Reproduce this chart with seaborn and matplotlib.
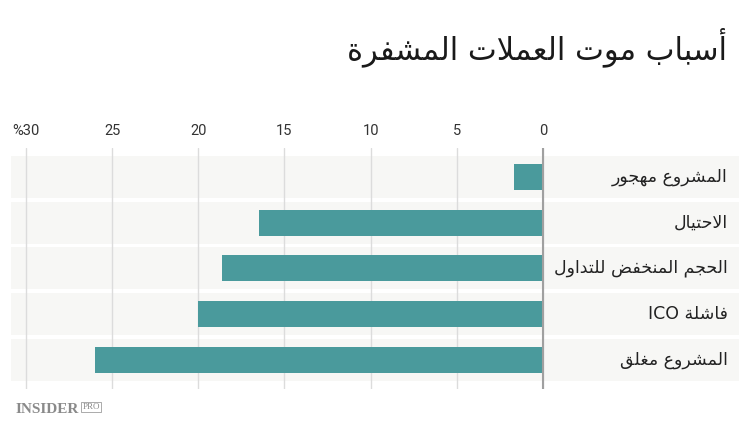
import matplotlib
matplotlib.use('Agg')
import matplotlib.pyplot as plt
import matplotlib.transforms as mtransforms
import seaborn as sns
import pandas as pd

# Data
reasons = ['المشروع مهجور', 'الاحتيال', 'الحجم المنخفض للتداول', 'فاشلة ICO', 'المشروع مغلق']
shares = [1.7, 16.5, 18.6, 20.0, 26.0]
tick_vals = [0, 5, 10, 15, 20, 25, 30]
tick_labels = ['0', '5', '10', '15', '20', '25', '%30']
title = 'أسباب موت العملات المشفرة'

# matplotlib has no Arabic shaping, so pick presentation forms by hand
# (isolated, final, initial, medial); RIGHT letters join only to the right
DUAL = {'ب': 0xFE8F, 'ت': 0xFE95, 'ج': 0xFE9D, 'ح': 0xFEA1, 'خ': 0xFEA5,
        'س': 0xFEB1, 'ش': 0xFEB5, 'ض': 0xFEBD, 'ع': 0xFEC9, 'غ': 0xFECD,
        'ف': 0xFED1, 'ق': 0xFED5, 'ل': 0xFEDD, 'م': 0xFEE1, 'ن': 0xFEE5,
        'ه': 0xFEE9, 'ي': 0xFEF1}
RIGHT = {'ا': 0xFE8D, 'أ': 0xFE83, 'ة': 0xFE93, 'د': 0xFEA9, 'ر': 0xFEAD,
         'و': 0xFEED}
LAM_ALEF = {'ا': 0xFEFB, 'أ': 0xFEF7}


def shape_word(w):
    out = []
    i = 0
    while i < len(w):
        ch = w[i]
        if ch not in DUAL and ch not in RIGHT:
            out.append(ch)
            i += 1
            continue
        prev_joins = i > 0 and w[i - 1] in DUAL
        if ch == 'ل' and i + 1 < len(w) and w[i + 1] in LAM_ALEF:
            out.append(chr(LAM_ALEF[w[i + 1]] + (1 if prev_joins else 0)))
            i += 2
            continue
        nxt = i + 1 < len(w) and (w[i + 1] in DUAL or w[i + 1] in RIGHT)
        if ch in DUAL:
            base = DUAL[ch]
            if prev_joins and nxt:
                k = 3
            elif nxt:
                k = 2
            elif prev_joins:
                k = 1
            else:
                k = 0
        else:
            base = RIGHT[ch]
            k = 1 if prev_joins else 0
        out.append(chr(base + k))
        i += 1
    return ''.join(out)


def rtl(text):
    words = []
    for w in reversed(text.split(' ')):
        if any(c in DUAL or c in RIGHT for c in w):
            words.append(shape_word(w)[::-1])
        else:
            words.append(w)
    return ' '.join(words)


df = pd.DataFrame({'reason': reasons, 'share': shares})

sns.set_style('white')
plt.rcParams['font.family'] = ['DejaVu Sans']

fig = plt.figure(figsize=(7.5, 4.32), dpi=100)
ax = fig.add_axes([0.014, 0.0995, 0.9707, 0.5579])

sns.barplot(data=df, x='share', y='reason', orient='h', color='#4a9a9c',
            saturation=1, width=0.57, ax=ax, edgecolor='none')
for bar in ax.containers[0]:
    bar.set_zorder(3)

# row bands
for i in range(len(reasons)):
    ax.axhspan(i - 0.46, i + 0.46, color='#f7f7f5', zorder=0, lw=0)

ax.set_xlim(30.89, -11.34)
ax.set_ylim(4.64, -0.63)
ax.set_xticks(tick_vals)
ax.set_xticklabels(tick_labels, family='Roboto', fontsize=10.5, color='#333333')
ax.xaxis.tick_top()
ax.tick_params(axis='x', length=0, pad=7)
ax.set_yticks([])
ax.set_xlabel('')
ax.set_ylabel('')
ax.grid(axis='x', color='#dcdcdc', lw=1)
ax.set_axisbelow(False)  # axis (grid) at zorder 2.5: over bands, under bars
ax.axvline(0, color='#a0a0a0', lw=1.5, zorder=4)
for s in ax.spines.values():
    s.set_visible(False)

trans = mtransforms.blended_transform_factory(ax.transAxes, ax.transData)
for i, r in enumerate(reasons):
    ax.text(0.985, i, rtl(r), transform=trans, ha='right', va='center',
            fontsize=12.5, color='#222222', family=['DejaVu Sans'], zorder=5)

fig.text(0.9687, 0.89, rtl(title), ha='right', va='center', fontsize=22,
         color='#1a1a1a', family=['DejaVu Sans'])

# logo
fig.text(0.021, 0.052, 'INSIDER', ha='left', va='center', fontsize=11,
         fontweight='bold', color='#8a8a8a', family='Liberation Serif')
fig.text(0.110, 0.058, 'PRO', ha='left', va='center', fontsize=6.5,
         color='#8a8a8a', family='Liberation Serif',
         bbox=dict(boxstyle='square,pad=0.12', fc='none', ec='#8a8a8a', lw=0.5))

fig.savefig('out.png', dpi=100, facecolor='white')
